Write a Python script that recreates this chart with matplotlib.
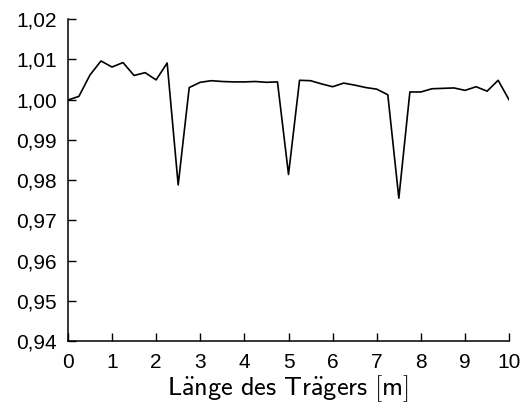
import matplotlib
matplotlib.use("Agg")
import matplotlib.pyplot as plt
from matplotlib.ticker import FuncFormatter

# Position along the beam [m] and normalised response
positions = [0.0, 0.25, 0.5, 0.75, 1.0, 1.25, 1.5, 1.75, 2.0, 2.25,
             2.5, 2.75, 3.0, 3.25, 3.5, 3.75, 4.0, 4.25, 4.5, 4.75,
             5.0, 5.25, 5.5, 5.75, 6.0, 6.25, 6.5, 6.75, 7.0, 7.25,
             7.5, 7.75, 8.0, 8.25, 8.5, 8.75, 9.0, 9.25, 9.5, 9.75, 10.0]
ratio = [0.9999, 1.0008, 1.0061, 1.0096, 1.0081, 1.0092, 1.0060, 1.0067, 1.0049, 1.0091,
         0.9788, 1.0030, 1.0043, 1.0047, 1.0045, 1.0044, 1.0044, 1.0045, 1.0043, 1.0044,
         0.9814, 1.0048, 1.0047, 1.0039, 1.0032, 1.0041, 1.0036, 1.0030, 1.0026, 1.0012,
         0.9755, 1.0019, 1.0019, 1.0027, 1.0028, 1.0029, 1.0023, 1.0032, 1.0021, 1.0048,
         0.9999]
x_ticks = list(range(0, 11))
y_ticks = [0.94, 0.95, 0.96, 0.97, 0.98, 0.99, 1.00, 1.01, 1.02]

plt.rcParams["font.family"] = ["Liberation Sans", "DejaVu Sans"]
plt.rcParams["mathtext.fontset"] = "cm"

fig = plt.figure(figsize=(5.26, 4.07), dpi=100)
ax = fig.add_axes([0.129, 0.162, 0.839, 0.791])

ax.plot(positions, ratio, color="black", linewidth=1.2)

ax.set_xlim(0, 10)
ax.set_ylim(0.94, 1.02)
ax.set_xticks(x_ticks)
ax.set_yticks(y_ticks)
ax.yaxis.set_major_formatter(FuncFormatter(lambda v, p: f"{v:.2f}".replace(".", ",")))

for side in ("top", "right"):
    ax.spines[side].set_visible(False)
for side in ("left", "bottom"):
    ax.spines[side].set_linewidth(1.1)

ax.tick_params(direction="in", length=5.5, width=1.0, labelsize=15)
ax.tick_params(axis="x", pad=8.5)
ax.tick_params(axis="y", pad=8)

ax.set_xlabel(r"$\mathsf{L\ddot{a}nge\ des\ Tr\ddot{a}gers\ [m]}$", fontsize=19, labelpad=1)

fig.savefig("out.png", dpi=100)
